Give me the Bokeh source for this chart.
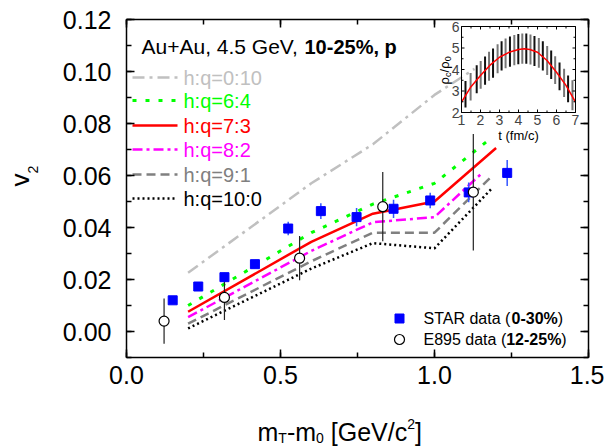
from bokeh.plotting import figure
from bokeh.models import Range1d, LinearAxis, SingleIntervalTicker, Label, NumeralTickFormatter
from bokeh.embed import file_html
from bokeh.resources import INLINE
import numpy as np

# ---------------- data ----------------
star_x = [0.150, 0.233, 0.318, 0.417, 0.525, 0.631, 0.747, 0.867, 0.986, 1.111, 1.236]
star_v2 = [0.0120, 0.0173, 0.0209, 0.0259, 0.0396, 0.0463, 0.0440, 0.0472, 0.0504, 0.0535, 0.0610]
star_err = [0.0010, 0.0012, 0.0017, 0.0015, 0.0026, 0.0030, 0.0035, 0.0035, 0.0030, 0.0038, 0.0050]

e895_x = [0.122, 0.318, 0.562, 0.832, 1.126]
e895_v2 = [0.0040, 0.0131, 0.0282, 0.0480, 0.0536]
e895_err = [0.0087, 0.0087, 0.0085, 0.0133, 0.0224]

hq_0_10_x = [0.2, 0.6, 0.8, 1.0, 1.13]
hq_0_10_y = [0.0226, 0.0570, 0.0720, 0.0910, 0.1010]
hq_6_4_x = [0.2, 0.6, 0.8, 1.0, 1.19]
hq_6_4_y = [0.0100, 0.0380, 0.0490, 0.0570, 0.0750]
hq_7_3_x = [0.2, 0.6, 0.8, 1.0, 1.2]
hq_7_3_y = [0.0076, 0.0345, 0.0453, 0.0500, 0.0706]
hq_8_2_x = [0.2, 0.6, 0.8, 1.0, 1.155]
hq_8_2_y = [0.0055, 0.0310, 0.0420, 0.0440, 0.0610]
hq_9_1_x = [0.2, 0.6, 0.8, 1.0, 1.18]
hq_9_1_y = [0.0030, 0.0270, 0.0380, 0.0380, 0.0590]
hq_10_0_x = [0.2, 0.6, 0.8, 1.0, 1.19]
hq_10_0_y = [0.0012, 0.0242, 0.0340, 0.0320, 0.0555]

legend_labels = ["h:q=0:10", "h:q=6:4", "h:q=7:3", "h:q=8:2", "h:q=9:1", "h:q=10:0"]

# inset: rho_c/rho_0 vs t
rho_t = [1.0, 1.5, 2.0, 2.5, 3.0, 3.5, 4.0, 4.3, 4.6, 5.0, 5.5, 6.0, 6.5, 7.0]
rho_ratio = [2.48, 3.20, 3.72, 4.20, 4.57, 4.80, 4.93, 4.96, 4.93, 4.80, 4.42, 3.87, 3.26, 2.48]
bar_a_t = [1.21, 1.80, 2.24, 2.66, 3.11, 3.55, 3.99, 4.41, 4.84, 5.28, 5.72, 6.16, 6.61]
bar_a_c = [2.85, 3.55, 3.95, 4.30, 4.63, 4.83, 4.95, 4.97, 4.86, 4.63, 4.22, 3.68, 3.10]
bar_a_e = [0.62, 0.65, 0.66, 0.68, 0.68, 0.70, 0.70, 0.70, 0.70, 0.68, 0.66, 0.64, 0.62]
bar_b_t = [1.48, 2.01, 2.45, 2.90, 3.32, 3.78, 4.20, 4.63, 5.07, 5.51, 5.93, 6.40, 6.84]
bar_b_c = [3.20, 3.75, 4.15, 4.50, 4.75, 4.90, 4.97, 4.93, 4.77, 4.42, 3.97, 3.38, 2.80]
bar_b_e = [0.64, 0.65, 0.67, 0.68, 0.69, 0.70, 0.70, 0.70, 0.69, 0.67, 0.65, 0.66, 0.70]

inset_t_ticks = [1, 2, 3, 4, 5, 6, 7]
inset_r_ticks = [2, 3, 4, 5, 6]

# ---------------- layout (page pixels) ----------------
FONT = "Liberation Sans"
W, H = 604, 446                              # canvas = frame
FL, FR, FT, FB = 126, 588, 19, 357          # main plot box
XB = (0.0, 1.5)                              # main axis bounds
YB = (-0.01, 0.12)
IL, IR, IT, IB = 461, 575, 26, 112          # inset box

xpp = (XB[1] - XB[0]) / (FR - FL)
ypp = (YB[1] - YB[0]) / (FB - FT)
x_range = Range1d(XB[0] - FL * xpp, XB[1] + (W - FR) * xpp)
y_range = Range1d(YB[0] - (H - FB) * ypp, YB[1] + FT * ypp)


def dx(px):
    return XB[0] + (px - FL) * xpp


def dy(py):
    return YB[1] - (py - FT) * ypp


p = figure(frame_width=W, frame_height=H, x_range=x_range, y_range=y_range,
           output_backend="svg", toolbar_location=None,
           x_axis_location=None, y_axis_location=None,
           min_border=0, min_border_left=0, min_border_right=0,
           min_border_top=0, min_border_bottom=0)
p.background_fill_color = "white"
p.border_fill_color = "white"
p.outline_line_color = None
p.grid.visible = False


def make_axis(kind, loc, labels):
    if kind == "x":
        ax = LinearAxis(ticker=SingleIntervalTicker(interval=0.5, num_minor_ticks=2),
                        formatter=NumeralTickFormatter(format="0.0"), fixed_location=loc, bounds=XB)
        ax.major_label_standoff = 8
    else:
        ax = LinearAxis(ticker=SingleIntervalTicker(interval=0.02, num_minor_ticks=2),
                        formatter=NumeralTickFormatter(format="0.00"), fixed_location=loc, bounds=YB)
        ax.major_label_standoff = 15
    ax.axis_line_color = "black"
    ax.axis_line_width = 1.5
    ax.major_tick_in = 8
    ax.major_tick_out = 0
    ax.minor_tick_in = 5
    ax.minor_tick_out = 0
    ax.major_tick_line_width = 1.5
    ax.minor_tick_line_width = 1.5
    ax.major_label_text_font = FONT
    ax.major_label_text_font_size = "25px"
    ax.major_label_text_color = "black" if labels else None
    return ax


p.add_layout(make_axis("x", YB[0], True), "below")
p.add_layout(make_axis("x", YB[1], False), "above")
p.add_layout(make_axis("y", XB[0], True), "left")
p.add_layout(make_axis("y", XB[1], False), "right")

# ---------------- model curves ----------------
styles = [
    (hq_0_10_x, hq_0_10_y, "#c0c0c0", "12 5 3 5", 2.5),
    (hq_6_4_x, hq_6_4_y, "#00ff00", "4 9", 3),
    (hq_7_3_x, hq_7_3_y, "#ff0000", "solid", 2.5),
    (hq_8_2_x, hq_8_2_y, "#ff00ff", "10 4 3 4", 2.5),
    (hq_9_1_x, hq_9_1_y, "#808080", "9 5", 2.5),
    (hq_10_0_x, hq_10_0_y, "#000000", "2 3", 2.5),
]
for xs, ys, c, d, w in styles:
    p.line(xs, ys, line_color=c, line_dash=d, line_width=w)

# ---------------- data points ----------------
sx = np.array(star_x); sy = np.array(star_v2); se = np.array(star_err)
p.segment(x0=sx, y0=sy - se, x1=sx, y1=sy + se, line_color="#3355ff", line_width=1.5)
ex = np.array(e895_x); ey = np.array(e895_v2); ee = np.array(e895_err)
p.segment(x0=ex, y0=ey - ee, x1=ex, y1=ey + ee, line_color="#222222", line_width=1.2)
p.scatter(star_x, star_v2, marker="square", size=9, fill_color="#0000ff", line_color="#0000ff")
p.scatter(e895_x, e895_v2, marker="circle", size=10, fill_color="white", line_color="black", line_width=1.2)

# ---------------- inset ----------------
t0, t1 = inset_t_ticks[0], inset_t_ticks[-1]
r0, r1 = inset_r_ticks[0], inset_r_ticks[-1]
t_pp = (t1 - t0) / (IR - IL)
r_pp = (r1 - r0) / (IB - IT)
p.extra_x_ranges = {"tx": Range1d(t0 - IL * t_pp, t1 + (W - IR) * t_pp)}
p.extra_y_ranges = {"ry": Range1d(r0 - (H - IB) * r_pp, r1 + IT * r_pp)}
ik = dict(x_range_name="tx", y_range_name="ry")

for ts, cs, es, col in [(bar_a_t, bar_a_c, bar_a_e, "#111111"), (bar_b_t, bar_b_c, bar_b_e, "#777777")]:
    t = np.array(ts); c = np.array(cs); e = np.array(es)
    p.segment(x0=t, y0=c - e, x1=t, y1=c + e, line_color=col, line_width=2, **ik)
p.line(rho_t, rho_ratio, line_color="#ff0000", line_width=1.5, **ik)

p.quad(left=t0, right=t1, bottom=r0, top=r1, fill_color=None, line_color="black", line_width=1, **ik)
t_major = np.array(inset_t_ticks, dtype=float)
t_minor = t_major[:-1] + 0.5
r_major = np.array(inset_r_ticks, dtype=float)
r_minor = r_major[:-1] + 0.5
for tv, ln in [(t_major, 3), (t_minor, 2)]:
    p.segment(x0=tv, y0=r0, x1=tv, y1=r0 + ln * r_pp, line_color="black", line_width=1, **ik)
    p.segment(x0=tv, y0=r1, x1=tv, y1=r1 - ln * r_pp, line_color="black", line_width=1, **ik)
for rv, ln in [(r_major, 3), (r_minor, 2)]:
    p.segment(x0=t0, y0=rv, x1=t0 + ln * t_pp, y1=rv, line_color="black", line_width=1, **ik)
    p.segment(x0=t1, y0=rv, x1=t1 - ln * t_pp, y1=rv, line_color="black", line_width=1, **ik)
for tv in inset_t_ticks:
    p.add_layout(Label(x=tv, y=r0, text=str(tv), text_font=FONT, text_font_size="14px",
                       text_align="center", text_baseline="top", y_offset=-2, **ik))
for rv in inset_r_ticks:
    p.add_layout(Label(x=t0, y=rv, text=str(rv), text_font=FONT, text_font_size="14px",
                       text_align="right", text_baseline="middle", x_offset=-2, **ik))

# ---------------- text helpers ----------------
WID = {'0': .556, '1': .556, '2': .556, '3': .556, '4': .556, '5': .556, '6': .556, '7': .556,
       '8': .556, '9': .556, '.': .278, ',': .278, ' ': .278, '-': .333, '+': .584, '=': .584,
       ':': .278, '%': .889, '(': .333, ')': .333, '[': .278, ']': .278, '/': .278,
       'A': .667, 'u': .556, 'G': .778, 'e': .556, 'V': .667, 'S': .667, 'T': .611, 'R': .722,
       'd': .556, 'a': .556, 't': .278, 'E': .667, 'm': .833, 'c': .5, 'p': .556, 'h': .556,
       'q': .556, 'f': .278, 'v': .5, 'ρ': .58}


def width(s, size, bold=False):
    w = sum(WID.get(ch, .556) for ch in s)
    if bold:
        w += 0.06 * sum(1 for ch in s if ch == 'p')
    return w * size


def txt(px, py, s, size, color="black", bold=False, align="left", rotate=False):
    # py (or px when rotated) is the centre line of the text
    p.add_layout(Label(x=dx(px), y=dy(py), text=s, text_font=FONT, text_font_size=f"{size}px",
                       text_color=color, text_font_style="bold" if bold else "normal",
                       angle=90 if rotate else 0, angle_units="deg",
                       text_align=align, text_baseline="middle"))


def rich(px, py, pieces, color="black"):
    x = px
    for s, size, shift, bold in pieces:
        lead = len(s) - len(s.lstrip(" "))
        x += width(" " * lead, size)
        s = s.lstrip(" ")
        txt(x, py + shift, s, size, color=color, bold=bold)
        x += width(s, size, bold)


def rich_up(px, py, pieces, color="black"):
    y = py
    for s, size, shift in pieces:
        txt(px + shift, y, s, size, color=color, rotate=True)
        y -= width(s, size)


# axis titles
rich_up(19, 186, [("v", 26, 0), ("2", 14, 13)])
rich(257, 431, [("m", 25, 0, False), ("T", 14, 6, False), ("-m", 25, 0, False), ("0", 14, 6, False),
                (" [GeV/c", 25, 0, False), ("2", 14, -8, False), ("]", 25, 0, False)])

# inset axis titles
txt(518, 135, "t (fm/c)", 13, align="center")
rich_up(444, 84, [("ρ", 13, 0), ("c", 9, 3), ("/ρ", 13, 0), ("0", 9, 3)])

# header
txt(141, 46, "Au+Au, 4.5 GeV,", 21)
txt(304, 46, "10-25%, p", 20, bold=True)

# model legend
rows = [77, 100, 125, 149, 174, 198]
for (xs, ys, c, d, w), lab, ry in zip(styles, legend_labels, rows):
    p.line([dx(132), dx(177)], [dy(ry), dy(ry)], line_color=c, line_dash=d, line_width=w)
    txt(183, ry, lab, 20, color=c)

# data legend
p.scatter([dx(399)], [dy(318)], marker="square", size=9, fill_color="#0000ff", line_color="#0000ff")
p.scatter([dx(399)], [dy(339)], marker="circle", size=10, fill_color="white", line_color="black", line_width=1.2)
rich(423, 318, [("STAR data (", 16, 0, False), ("0-30%", 16, 0, True), (")", 16, 0, False)])
rich(423, 339, [("E895 data (", 16, 0, False), ("12-25%", 16, 0, True), (")", 16, 0, False)])

open("out.html", "w").write(file_html(p, INLINE))
